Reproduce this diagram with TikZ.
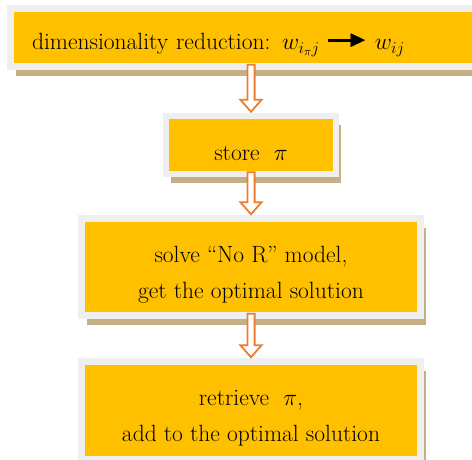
\documentclass[tikz,border=0pt]{standalone}
\usepackage{fix-cm}
\usepackage{amssymb}
\usetikzlibrary{positioning,calc,shadows}
\definecolor{boxfill}{HTML}{FFC000}
\definecolor{boxrim}{HTML}{EFEFEF}
\definecolor{boxshade}{HTML}{C5AF85}
\definecolor{arroworange}{HTML}{ED7D31}

% pushes the first line of a box down a little
\newcommand\boxstrut{\rule{0pt}{31pt}}
% thick arrow used inside the first box
\newcommand\boldto{\raisebox{3.5pt}{\rule[4.6pt]{24pt}{2.4pt}\kern-3pt$\blacktriangleright$}}
% hollow block arrow from one box down to the next
\newcommand\flowstep[2]{%
    \draw[flow] let \p1=(#1.south), \p2=(#2.north) in
        (\x2-3.6pt,\y1+5pt) -- (\x2+3.6pt,\y1+5pt) -- (\x2+3.6pt,\y2+13pt)
        -- (\x2+10.6pt,\y2+13pt) -- (\x2,\y2+1pt) -- (\x2-10.6pt,\y2+13pt)
        -- (\x2-3.6pt,\y2+13pt) -- cycle;}

\begin{document}
\begin{tikzpicture}[
    x=1pt, y=1pt,
    every node/.style={font=\fontsize{23.5}{36}\selectfont},
    stepbox/.style={
        draw=boxrim,
        line width=6.5pt,
        fill=boxfill,
        align=center,
        inner sep=0pt,
        drop shadow={shadow xshift=5pt, shadow yshift=-9pt, fill=boxshade, opacity=1}
    },
    flow/.style={draw=arroworange, line width=1.8pt, fill=white, line join=miter}
]
\useasboundingbox (0,0) rectangle (472,-459);

\node[stepbox, minimum width=470pt, minimum height=58pt,
      text width=427pt, inner xsep=21.5pt, align=left] (reduce) at (245.5,-37.5)
    {\boxstrut dimensionality reduction:\enspace$w_{i_\pi j}$ \boldto\ $w_{ij}$};
\node[stepbox, minimum width=170pt, minimum height=58pt,
      below=43pt of reduce, xshift=5.5pt] (store) {\boxstrut store\ \ $\pi$};
\node[stepbox, minimum width=339pt, minimum height=97pt,
      below=38pt of store] (solve) {\boxstrut solve “No R” model,\\get the optimal solution};
\node[stepbox, minimum width=339pt, minimum height=98pt,
      below=39.5pt of solve] (retrieve) {\boxstrut retrieve\ \ $\pi$,\\add to the optimal solution};

\flowstep{reduce}{store}
\flowstep{store}{solve}
\flowstep{solve}{retrieve}

\end{tikzpicture}
\end{document}
